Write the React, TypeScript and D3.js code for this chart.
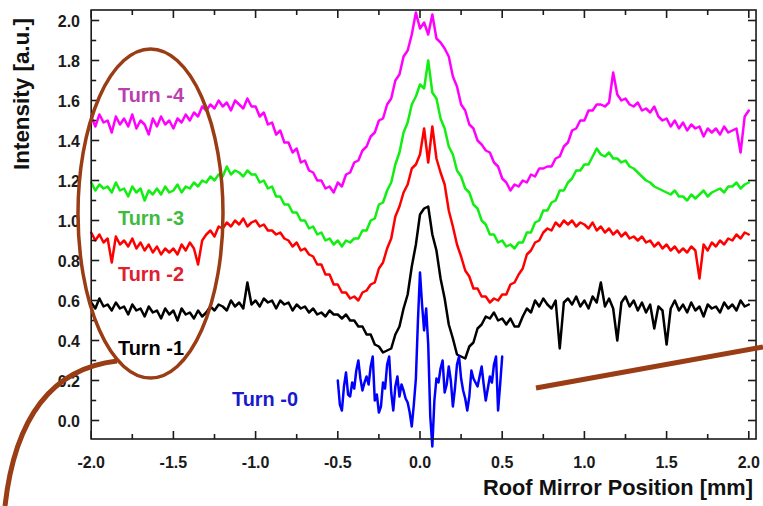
import React from "react";
import * as d3 from "d3";

// Sampling of the four full-range scans (mm)
const SCAN_START = -2.0;
const SCAN_STEP = 0.025;

const turn4 = [
  1.52, 1.47, 1.53, 1.49, 1.50, 1.44, 1.52, 1.48,
  1.51, 1.47, 1.53, 1.46, 1.50, 1.48, 1.43, 1.51,
  1.47, 1.52, 1.48, 1.50, 1.46, 1.51, 1.49, 1.53,
  1.50, 1.54, 1.52, 1.57, 1.55, 1.58, 1.56, 1.60,
  1.57, 1.59, 1.55, 1.60, 1.58, 1.56, 1.61, 1.57,
  1.57, 1.52, 1.54, 1.48, 1.49, 1.43, 1.45, 1.39,
  1.39, 1.34, 1.36, 1.29, 1.30, 1.25, 1.24, 1.20,
  1.20, 1.16, 1.17, 1.14, 1.19, 1.17, 1.23, 1.24,
  1.29, 1.30, 1.35, 1.37, 1.42, 1.44, 1.50, 1.51,
  1.58, 1.61, 1.70, 1.73, 1.82, 1.85, 1.93, 2.04,
  1.96, 1.99, 1.93, 2.03, 1.91, 1.89, 1.86, 1.82,
  1.72, 1.67, 1.58, 1.55, 1.48, 1.46, 1.40, 1.38,
  1.35, 1.34, 1.29, 1.27, 1.21, 1.19, 1.15, 1.18,
  1.17, 1.20, 1.19, 1.23, 1.22, 1.26, 1.26, 1.27,
  1.27, 1.31, 1.32, 1.37, 1.39, 1.45, 1.46, 1.50,
  1.50, 1.55, 1.55, 1.58, 1.58, 1.57, 1.59, 1.74,
  1.63, 1.60, 1.61, 1.58, 1.57, 1.59, 1.55, 1.56,
  1.54, 1.57, 1.52, 1.50, 1.51, 1.47, 1.50, 1.46,
  1.49, 1.45, 1.48, 1.46, 1.47, 1.42, 1.46, 1.44,
  1.46, 1.43, 1.47, 1.44, 1.45, 1.46, 1.34, 1.52,
  1.55,
];

const turn3 = [
  1.19, 1.15, 1.18, 1.16, 1.17, 1.14, 1.19, 1.15,
  1.16, 1.12, 1.17, 1.14, 1.16, 1.10, 1.15, 1.13,
  1.16, 1.13, 1.17, 1.14, 1.15, 1.18, 1.14, 1.17,
  1.16, 1.19, 1.17, 1.20, 1.19, 1.22, 1.20, 1.23,
  1.22, 1.27, 1.23, 1.25, 1.24, 1.22, 1.25, 1.23,
  1.23, 1.19, 1.20, 1.16, 1.17, 1.12, 1.12, 1.08,
  1.08, 1.04, 1.04, 1.00, 1.00, 0.96, 0.97, 0.93,
  0.94, 0.90, 0.91, 0.88, 0.90, 0.87, 0.90, 0.89,
  0.91, 0.91, 0.95, 0.95, 1.00, 1.01, 1.08, 1.09,
  1.15, 1.19, 1.28, 1.34, 1.44, 1.49, 1.58, 1.62,
  1.68, 1.66, 1.80, 1.64, 1.61, 1.51, 1.46, 1.37,
  1.33, 1.25, 1.22, 1.16, 1.14, 1.08, 1.06, 1.00,
  0.98, 0.93, 0.93, 0.89, 0.90, 0.87, 0.88, 0.86,
  0.89, 0.89, 0.94, 0.94, 0.99, 1.00, 1.05, 1.05,
  1.09, 1.10, 1.15, 1.15, 1.19, 1.21, 1.25, 1.25,
  1.28, 1.28, 1.32, 1.36, 1.33, 1.32, 1.34, 1.31,
  1.31, 1.29, 1.30, 1.27, 1.26, 1.24, 1.22, 1.20,
  1.19, 1.17, 1.16, 1.15, 1.14, 1.13, 1.15, 1.12,
  1.12, 1.10, 1.13, 1.11, 1.13, 1.15, 1.12, 1.14,
  1.15, 1.16, 1.14, 1.17, 1.17, 1.19, 1.16, 1.18,
  1.19,
];

const turn2 = [
  0.94, 0.90, 0.93, 0.89, 0.91, 0.79, 0.92, 0.88,
  0.90, 0.87, 0.91, 0.86, 0.89, 0.85, 0.88, 0.84,
  0.87, 0.83, 0.86, 0.84, 0.86, 0.83, 0.88, 0.85,
  0.89, 0.86, 0.78, 0.90, 0.93, 0.95, 0.92, 0.97,
  0.96, 0.99, 0.97, 1.00, 0.98, 1.01, 0.97, 0.99,
  1.00, 0.97, 0.98, 0.95, 0.95, 0.93, 0.94, 0.91,
  0.90, 0.87, 0.89, 0.85, 0.86, 0.83, 0.82, 0.78,
  0.78, 0.73, 0.73, 0.68, 0.68, 0.64, 0.64, 0.61,
  0.62, 0.60, 0.64, 0.65, 0.68, 0.69, 0.76, 0.79,
  0.86, 0.91, 1.02, 1.07, 1.14, 1.18, 1.26, 1.28,
  1.33, 1.46, 1.29, 1.47, 1.31, 1.24, 1.18, 1.05,
  0.97, 0.88, 0.82, 0.75, 0.72, 0.66, 0.66, 0.62,
  0.62, 0.59, 0.61, 0.60, 0.63, 0.63, 0.68, 0.69,
  0.73, 0.76, 0.83, 0.85, 0.89, 0.90, 0.94, 0.96,
  0.95, 0.99, 0.97, 1.00, 0.98, 1.00, 0.97, 0.99,
  0.98, 0.96, 0.99, 0.95, 0.97, 0.94, 0.96, 0.93,
  0.95, 0.92, 0.94, 0.91, 0.92, 0.90, 0.92, 0.89,
  0.90, 0.87, 0.89, 0.86, 0.88, 0.85, 0.87, 0.84,
  0.86, 0.84, 0.87, 0.85, 0.71, 0.88, 0.85, 0.89,
  0.87, 0.90, 0.88, 0.91, 0.90, 0.93, 0.91, 0.94,
  0.93,
];

const turn1 = [
  0.59, 0.56, 0.61, 0.57, 0.58, 0.55, 0.59, 0.56,
  0.57, 0.53, 0.58, 0.55, 0.56, 0.52, 0.57, 0.54,
  0.55, 0.51, 0.56, 0.53, 0.55, 0.50, 0.56, 0.53,
  0.54, 0.51, 0.55, 0.52, 0.54, 0.57, 0.55, 0.58,
  0.57, 0.55, 0.60, 0.57, 0.59, 0.56, 0.69, 0.58,
  0.60, 0.57, 0.61, 0.59, 0.60, 0.56, 0.60, 0.58,
  0.59, 0.55, 0.58, 0.56, 0.57, 0.54, 0.56, 0.53,
  0.54, 0.52, 0.55, 0.53, 0.53, 0.51, 0.53, 0.50,
  0.50, 0.47, 0.47, 0.43, 0.43, 0.38, 0.37, 0.34,
  0.35, 0.36, 0.43, 0.47, 0.56, 0.63, 0.77, 0.88,
  1.03, 1.06, 1.07, 0.93, 0.85, 0.71, 0.61, 0.48,
  0.41, 0.33, 0.32, 0.31, 0.37, 0.39, 0.46, 0.48,
  0.52, 0.51, 0.54, 0.50, 0.51, 0.48, 0.51, 0.47,
  0.47, 0.52, 0.56, 0.54, 0.60, 0.57, 0.61, 0.58,
  0.56, 0.60, 0.36, 0.59, 0.61, 0.58, 0.62, 0.57,
  0.60, 0.56, 0.62, 0.59, 0.69, 0.57, 0.61, 0.56,
  0.40, 0.59, 0.62, 0.57, 0.60, 0.55, 0.59, 0.54,
  0.58, 0.46, 0.57, 0.55, 0.38, 0.56, 0.60, 0.55,
  0.58, 0.54, 0.59, 0.55, 0.57, 0.52, 0.58, 0.56,
  0.57, 0.54, 0.59, 0.56, 0.58, 0.55, 0.60, 0.57,
  0.58,
];

// Turn-0 covers only the central millimetre, sampled more finely
const TURN0_START = -0.5;
const TURN0_STEP = 0.0125;
const turn0 = [
  0.20, 0.08, 0.05, 0.17, 0.24, 0.13, 0.12, 0.19, 0.16, 0.25, 0.30, 0.21, 0.15, 0.19, 0.22, 0.18,
  0.27, 0.32, 0.10, 0.13, 0.04, 0.07, 0.19, 0.16, 0.28, 0.32, 0.14, 0.05, 0.17, 0.22, 0.12, 0.18,
  0.15, 0.11, 0.09, 0.04, -0.03, 0.08, 0.21, 0.50, 0.74, 0.58, 0.45, 0.56, 0.38, 0.02, -0.13, 0.10,
  0.21, 0.19, 0.26, 0.30, 0.14, 0.18, 0.27, 0.20, 0.07, 0.16, 0.28, 0.32, 0.21, 0.15, 0.11, 0.05,
  0.12, 0.25, 0.21, 0.19, 0.17, 0.22, 0.27, 0.18, 0.10, 0.16, 0.22, 0.19, 0.28, 0.32, 0.05, 0.18,
  0.32,
];

const xTickLabels = ["-2.0", "-1.5", "-1.0", "-0.5", "0.0", "0.5", "1.0", "1.5", "2.0"];
const yTickLabels = ["0.0", "0.2", "0.4", "0.6", "0.8", "1.0", "1.2", "1.4", "1.6", "1.8", "2.0"];

const seriesNames = ["Turn -4", "Turn -3", "Turn -2", "Turn -1", "Turn -0"];

const W = 763;
const H = 506;
const FONT = "'Liberation Sans', Arial, Helvetica, sans-serif";
const BROWN = "#9a3c14";

const x = d3.scaleLinear().domain([-2, 2]).range([91.2, 748.8]);
const y = d3.scaleLinear().domain([0, 2]).range([420.5, 20.5]);

// Frame extends a little past the labelled range on the right, top and bottom
const frameLeft = x(-2);
const frameRight = x(2.044);
const frameTop = y(2.0525);
const frameBottom = y(-0.0925);

type Pt = [number, number];
const toPoints = (vals: number[], start: number, step: number): Pt[] =>
  vals.map((v, i) => [start + i * step, v]);

const lineGen = d3
  .line<Pt>()
  .x((d) => x(d[0]))
  .y((d) => y(d[1]));

const series = [
  { name: seriesNames[0], pts: toPoints(turn4, SCAN_START, SCAN_STEP), color: "#ff00ff", text: "#bb3fae", lx: 118, ly: 102 },
  { name: seriesNames[1], pts: toPoints(turn3, SCAN_START, SCAN_STEP), color: "#11ee11", text: "#3fbb3f", lx: 118, ly: 225 },
  { name: seriesNames[2], pts: toPoints(turn2, SCAN_START, SCAN_STEP), color: "#ff0000", text: "#e0202e", lx: 118, ly: 281 },
  { name: seriesNames[3], pts: toPoints(turn1, SCAN_START, SCAN_STEP), color: "#000000", text: "#000000", lx: 118, ly: 355 },
  { name: seriesNames[4], pts: toPoints(turn0, TURN0_START, TURN0_STEP), color: "#0000ff", text: "#1a1acc", lx: 232, ly: 406 },
];

export default function App() {
  const xMinor = d3.range(-8, 9).map((i) => ({ v: i * 0.25, major: i % 2 === 0 }));
  const yMinor = d3.range(0, 21).map((i) => ({ v: i / 10, major: i % 2 === 0 }));
  const MAJ = 8;
  const MIN = 5;

  return (
    <svg
      width={W}
      height={H}
      viewBox={`0 0 ${W} ${H}`}
      style={{ position: "absolute", left: 0, top: 0, background: "#ffffff" }}
      fontFamily={FONT}
    >
      <rect x={0} y={0} width={W} height={H} fill="#ffffff" />

      {/* data traces */}
      <g fill="none" strokeLinejoin="round" strokeLinecap="round">
        {series.map((s) => (
          <path key={s.name} d={lineGen(s.pts) || ""} stroke={s.color} strokeWidth={2.5} />
        ))}
      </g>

      {/* frame with inward ticks on all four sides */}
      <g stroke="#1a1a1a" strokeWidth={1.6}>
        <rect x={frameLeft} y={frameTop} width={frameRight - frameLeft} height={frameBottom - frameTop} fill="none" />
        {xMinor.map((t) => (
          <g key={"xt" + t.v}>
            <line x1={x(t.v)} x2={x(t.v)} y1={frameBottom} y2={frameBottom - (t.major ? MAJ : MIN)} />
            <line x1={x(t.v)} x2={x(t.v)} y1={frameTop} y2={frameTop + (t.major ? MAJ : MIN)} />
          </g>
        ))}
        {yMinor.map((t) => (
          <g key={"yt" + t.v}>
            <line x1={frameLeft} x2={frameLeft + (t.major ? MAJ : MIN)} y1={y(t.v)} y2={y(t.v)} />
            <line x1={frameRight} x2={frameRight - (t.major ? MAJ : MIN)} y1={y(t.v)} y2={y(t.v)} />
          </g>
        ))}
      </g>

      {/* tick labels */}
      <g fontSize={16} fontWeight="bold" fill="#1a1a1a">
        {xTickLabels.map((l) => (
          <text key={"xl" + l} x={x(+l)} y={468} textAnchor="middle">
            {l}
          </text>
        ))}
        {yTickLabels.map((l) => (
          <text key={"yl" + l} x={80} y={y(+l) + 6} textAnchor="end">
            {l}
          </text>
        ))}
      </g>

      {/* axis titles */}
      <text
        x={483}
        y={495}
        fontSize={22}
        fontWeight="bold"
        fill="#111"
        textLength={270}
        lengthAdjust="spacingAndGlyphs"
      >
        Roof Mirror Position [mm]
      </text>
      <text
        transform="translate(29,94) rotate(-90)"
        textAnchor="middle"
        fontSize={22}
        fontWeight="bold"
        fill="#111"
        textLength={152}
        lengthAdjust="spacingAndGlyphs"
      >
        Intensity [a.u.]
      </text>

      {/* series labels */}
      <g fontSize={21} fontWeight="bold">
        {series.map((s) => (
          <text key={"lab" + s.name} x={s.lx} y={s.ly} fill={s.text} textLength={66} lengthAdjust="spacingAndGlyphs">
            {s.name}
          </text>
        ))}
      </g>

      {/* highlight annotation */}
      <g fill="none" stroke={BROWN}>
        <ellipse cx={150.5} cy={213.5} rx={72.5} ry={164.5} strokeWidth={3.5} />
        <path d="M117,361 Q20,372 5,506" strokeWidth={5} />
        <line x1={536} y1={388} x2={763} y2={347} strokeWidth={5} />
      </g>
    </svg>
  );
}
